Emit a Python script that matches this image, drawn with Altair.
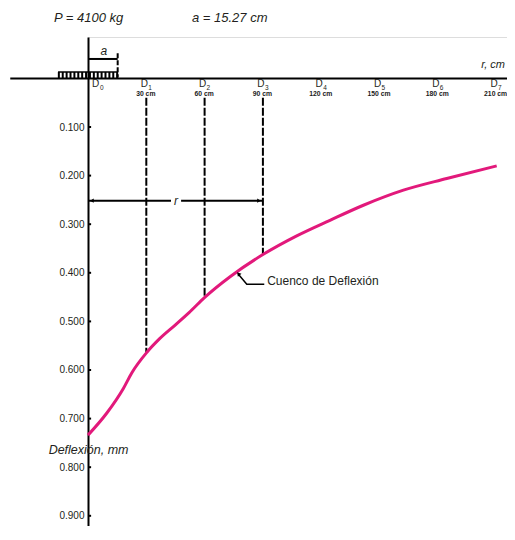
import altair as alt
import pandas as pd

FONT = "Liberation Sans"
INK = "#231f20"
MAGENTA = "#e2197b"

# ---------------- data ----------------
load_kg = 4100
load_radius_cm = 15.27

sensor_r = [0, 30, 60, 90, 120, 150, 180, 210]
sensor_sub = ["0", "1", "2", "3", "4", "5", "6", "7"]
sensor_dist = ["", "30 cm", "60 cm", "90 cm", "120 cm", "150 cm", "180 cm", "210 cm"]

# deflection bowl (r in cm, deflection in mm)
bowl_r = [0, 9.6, 18.2, 22.5, 30.2, 37.0, 45.0, 52.0, 60.2,
          73.1, 90.2, 107.4, 124.5, 141.7, 162.3, 184.6, 210.3]
bowl_d = [0.734, 0.689, 0.638, 0.606, 0.564, 0.535, 0.507, 0.482, 0.450,
          0.408, 0.362, 0.324, 0.292, 0.261, 0.230, 0.206, 0.180]

drop_r = [30, 60, 90]
drop_d = [0.564, 0.450, 0.362]

defl_ticks = [0.1, 0.2, 0.3, 0.4, 0.5, 0.6, 0.7, 0.8, 0.9]

hatch_r = [-15, -13, -11, -9, -7, -5, -3, -1, 1, 3, 5, 7, 9, 11, 13, 15]

X_DOMAIN = [0, 215.6]
Y_DOMAIN = [-0.0852, 0.9210]

# label rows (deflection units)
ROW_D = 0.0115
ROW_SUB = 0.0195
ROW_DIST = 0.0325
DROP_TOP = 0.040
DIM_R_ROW = 0.2516

xs = alt.Scale(domain=X_DOMAIN, nice=False, zero=False)
ys = alt.Scale(domain=Y_DOMAIN, nice=False, zero=False, reverse=True)
yaxis = alt.Axis(values=defl_ticks, format=".3f", title=None, grid=False,
                 ticks=False, tickSize=0, labelPadding=4, labelFont=FONT,
                 labelFontSize=10, labelColor=INK, domainColor="#000000",
                 domainWidth=2)


def X(f="r"):
    return alt.X(f"{f}:Q", scale=xs, axis=None)


def Y(f="d"):
    return alt.Y(f"{f}:Q", scale=ys, axis=yaxis)


# ground line (r axis)
ground = alt.Chart(pd.DataFrame({"r": [-40], "r2": [X_DOMAIN[1]], "d": [0]})).mark_rule(
    color="#000000", strokeWidth=2).encode(x=X(), x2="r2:Q", y=Y())

# inner y ticks
yt = alt.Chart(pd.DataFrame({"r": [0] * len(defl_ticks), "r2": [1.6] * len(defl_ticks),
                             "d": defl_ticks})).mark_rule(
    color="#000000", strokeWidth=2).encode(x=X(), x2="r2:Q", y=Y())

# dashed drops from sensors to bowl
drops = alt.Chart(pd.DataFrame({"r": drop_r, "d": [DROP_TOP] * 3, "d2": drop_d})).mark_rule(
    color="#000000", strokeWidth=2, strokeDash=[8, 2]).encode(x=X(), y=Y(), y2="d2:Q")

# deflection bowl
bowl = alt.Chart(pd.DataFrame({"r": bowl_r, "d": bowl_d})).mark_line(
    color=MAGENTA, strokeWidth=3, interpolate="monotone").encode(x=X(), y=Y())

# r dimension line
dim_r = alt.Chart(pd.DataFrame({"r": [0, 47.9], "r2": [42.7, 90],
                                "d": [DIM_R_ROW, DIM_R_ROW]})).mark_rule(
    color="#000000", strokeWidth=2).encode(x=X(), x2="r2:Q", y=Y())
arrow_l = alt.Chart(pd.DataFrame({"r": [2.0], "d": [DIM_R_ROW]})).mark_point(
    shape="triangle-left", filled=True, size=18, color="#000000", opacity=1).encode(x=X(), y=Y())
arrow_r = alt.Chart(pd.DataFrame({"r": [88.0], "d": [DIM_R_ROW]})).mark_point(
    shape="triangle-right", filled=True, size=18, color="#000000", opacity=1).encode(x=X(), y=Y())
r_lab = alt.Chart(pd.DataFrame({"r": [45.3], "d": [DIM_R_ROW], "t": ["r"]})).mark_text(
    font=FONT, fontSize=12, fontStyle="italic", color=INK, baseline="middle",
    align="center").encode(x=X(), y=Y(), text="t:N")

# leader for the bowl annotation
leader = alt.Chart(pd.DataFrame({"r": [77.6, 81.7, 90.7], "d": [0.404, 0.4237, 0.4237],
                                 "o": [0, 1, 2]})).mark_line(
    color="#000000", strokeWidth=1.5).encode(x=X(), y=Y(), order="o:Q")
leader_head = alt.Chart(pd.DataFrame({"r": [77.6], "d": [0.403]})).mark_point(
    shape="triangle", filled=True, size=22, angle=320, color="#000000", opacity=1).encode(x=X(), y=Y())
bowl_lab = alt.Chart(pd.DataFrame({"r": [92.2], "d": [0.4175], "t": ["Cuenco de Deflexión"]})).mark_text(
    font=FONT, fontSize=12, color=INK, align="left", baseline="middle").encode(
    x=X(), y=Y(), text="t:N")

# y axis title
ytitle = alt.Chart(pd.DataFrame({"r": [0.3], "d": [0.7636], "t": ["Deflexión, mm"]})).mark_text(
    font=FONT, fontSize=12.5, fontStyle="italic", color=INK, align="center",
    baseline="middle").encode(x=X(), y=Y(), text="t:N")

# r axis title (kept inside the page)
xtitle = alt.Chart(pd.DataFrame({"r": [X_DOMAIN[1]], "d": [-0.0286], "t": ["r, cm"]})).mark_text(
    font=FONT, fontSize=11, fontStyle="italic", color=INK, align="right",
    baseline="middle", dx=-2).encode(x=X(), y=Y(), text="t:N")

# header texts
heads = alt.Chart(pd.DataFrame({"r": [-17.5, 53.5], "d": [-0.1233, -0.1233],
                                "t": [f"P = {load_kg} kg", f"a = {load_radius_cm:.2f} cm"]})).mark_text(
    font=FONT, fontSize=13, fontStyle="italic", color=INK, align="left",
    baseline="middle").encode(x=X(), y=Y(), text="t:N")

# load plate (hatched) and radius a
hatch_top = alt.Chart(pd.DataFrame({"r": [-15.4], "r2": [15.3], "d": [-0.0132]})).mark_rule(
    color="#000000", strokeWidth=1.5).encode(x=X(), x2="r2:Q", y=Y())
hatch = alt.Chart(pd.DataFrame({"r": hatch_r, "d": [-0.0132] * len(hatch_r),
                                "d2": [0.0] * len(hatch_r)})).mark_rule(
    color="#000000", strokeWidth=2).encode(x=X(), y=Y(), y2="d2:Q")
a_line = alt.Chart(pd.DataFrame({"r": [0], "r2": [load_radius_cm], "d": [-0.040]})).mark_rule(
    color="#000000", strokeWidth=2).encode(x=X(), x2="r2:Q", y=Y())
a_dash = alt.Chart(pd.DataFrame({"r": [load_radius_cm], "d": [-0.052], "d2": [-0.002]})).mark_rule(
    color="#000000", strokeWidth=2, strokeDash=[5, 2]).encode(x=X(), y=Y(), y2="d2:Q")
a_lab = alt.Chart(pd.DataFrame({"r": [8.2], "d": [-0.0564], "t": ["a"]})).mark_text(
    font=FONT, fontSize=12, fontStyle="italic", color=INK, align="center",
    baseline="middle").encode(x=X(), y=Y(), text="t:N")

# sensor labels
sens = pd.DataFrame({"r": sensor_r, "sub": sensor_sub, "dist": sensor_dist,
                     "D": ["D"] * len(sensor_r)})
sens_main = sens[sens.r > 0]
sens_zero = sens[sens.r == 0]

d_main = alt.Chart(sens_main.assign(d=ROW_D)).mark_text(
    font=FONT, fontSize=10, color=INK, align="center", baseline="middle", dx=-2).encode(
    x=X(), y=Y(), text="D:N")
s_main = alt.Chart(sens_main.assign(d=ROW_SUB)).mark_text(
    font=FONT, fontSize=6.5, color=INK, align="left", baseline="middle", dx=2).encode(
    x=X(), y=Y(), text="sub:N")
dist_main = alt.Chart(sens_main.assign(d=ROW_DIST)).mark_text(
    font=FONT, fontSize=6.8, fontWeight="bold", color="#1a1a1a", align="center",
    baseline="middle", dx=-0.5).encode(x=X(), y=Y(), text="dist:N")
d_zero = alt.Chart(sens_zero.assign(d=ROW_D)).mark_text(
    font=FONT, fontSize=10, color=INK, align="center", baseline="middle", dx=7.5).encode(
    x=X(), y=Y(), text="D:N")
s_zero = alt.Chart(sens_zero.assign(d=ROW_SUB)).mark_text(
    font=FONT, fontSize=6.5, color=INK, align="left", baseline="middle", dx=12).encode(
    x=X(), y=Y(), text="sub:N")

chart = alt.layer(
    ground, yt, drops, dim_r, arrow_l, arrow_r, r_lab,
    hatch_top, hatch, a_line, a_dash, a_lab,
    bowl, leader, leader_head, bowl_lab, ytitle, xtitle, heads,
    d_main, s_main, dist_main, d_zero, s_zero,
).properties(
    width=419, height=489,
    padding={"left": 80, "top": 29, "right": 0, "bottom": 0},
    autosize=alt.AutoSizeParams(type="none"),
).configure_view(stroke=None).configure(background="white")

chart.save("out.html", embed_options={"renderer": "svg", "actions": False})
